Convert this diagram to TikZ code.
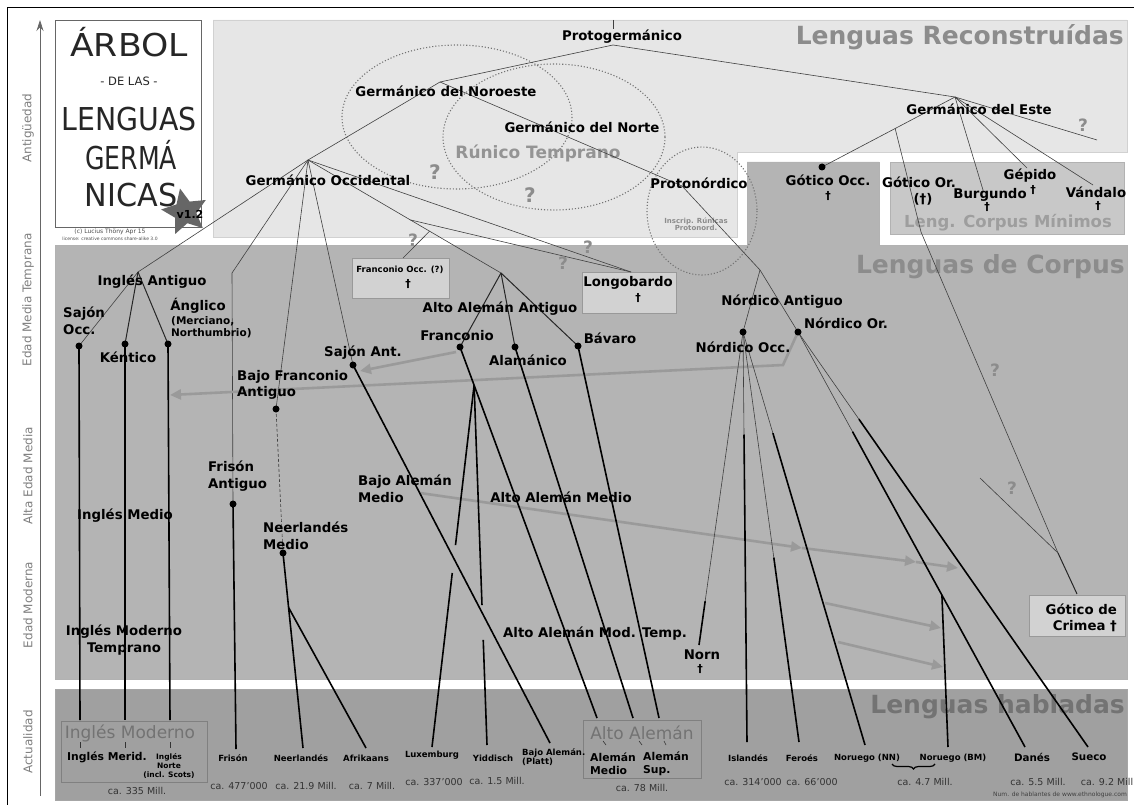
\documentclass[tikz,border=0pt]{standalone}
\usepackage{fontspec}
\setmainfont{DejaVu Sans}
\usetikzlibrary{arrows.meta,shapes.geometric,decorations.pathreplacing,calc}
\definecolor{recon}{HTML}{E6E6E6}
\definecolor{corpus}{HTML}{B4B4B4}
\definecolor{spoken}{HTML}{A0A0A0}
\definecolor{minbox}{HTML}{C8C8C8}
\definecolor{lbox}{HTML}{D2D2D2}
\definecolor{titlegray}{HTML}{8C8C8C}
\definecolor{arrowgray}{HTML}{9A9A9A}
\newcommand{\fs}[1]{\fontsize{#1}{#1}\selectfont}
\tikzset{
 lab/.style={font=\fontsize{13.3}{16.5}\selectfont\bfseries, inner sep=0pt, align=center},
 dag/.style={font=\fontsize{11}{12}\selectfont\bfseries, inner sep=0pt},
 sublab/.style={font=\fontsize{10.5}{12}\selectfont\bfseries, inner sep=0pt, align=left},
 slab/.style={font=\fontsize{8.5}{10}\selectfont\bfseries, inner sep=0pt, align=center},
 mlab/.style={font=\fontsize{10.8}{13}\selectfont\bfseries, inner sep=0pt, align=left},
 num/.style={font=\fontsize{9.5}{11}\selectfont, text=black!80, inner sep=0pt},
 big/.style={font=\fontsize{25}{28}\selectfont\bfseries, text=titlegray, inner sep=0pt, anchor=east},
 boxtitle/.style={font=\fontsize{17}{19}\selectfont, text=black!55, inner sep=0pt},
 axlab/.style={font=\fontsize{12}{14}\selectfont, text=black!50, inner sep=0pt, rotate=90},
 thinl/.style={line width=0.6pt, draw=black!75},
 medl/.style={line width=1pt, draw=black!85},
 thickl/.style={line width=1.6pt, draw=black},
 dot/.style={circle, fill=black, inner sep=0pt, minimum size=7pt},
 infl/.style={line width=2.6pt, draw=arrowgray, -{Triangle[length=11pt,width=10pt]}},
 qm/.style={font=\fontsize{20}{22}\selectfont\bfseries, text=black!45, inner sep=0pt},
 sqm/.style={font=\fontsize{17}{19}\selectfont\bfseries, text=black!45, inner sep=0pt},
 ring/.style={draw=black!55, dotted, line width=1.1pt},
 tick/.style={draw=black!80, line width=0.6pt},
}
\begin{document}
\begin{tikzpicture}[x=1pt,y=-1pt]
\useasboundingbox (0,0) rectangle (1134,805);
% ---------- frame and axis
\draw[black, line width=1pt] (7,805) -- (7,8) -- (1134,8);
\coordinate (axB) at (40,796);
\coordinate (axT) at (40,20);
\draw[black!60, line width=0.8pt, -{Stealth[length=11pt,width=7pt]}] (axB) -- (axT);
\node[axlab] (ax1) at (28,128) {Antigüedad};
\node[axlab] (ax2) at (28,300) {Edad Media Temprana};
\node[axlab] (ax3) at (28,476) {Alta Edad Media};
\node[axlab] (ax4) at (28,605) {Edad Moderna};
\node[axlab] (ax5) at (28,742) {Actualidad};
% ---------- regions
\filldraw[fill=recon, draw=black!18] (213,20) -- (1127,20) -- (1127,152) -- (737,152) -- (737,237) -- (213,237) -- cycle;
\filldraw[fill=corpus, draw=black!30] (55,245) -- (747,245) -- (747,162) -- (879,162) -- (879,245) -- (1127,245) -- (1127,679) -- (55,679) -- cycle;
\filldraw[fill=spoken, draw=black!35] (55,689) rectangle (1127,800);
\filldraw[fill=minbox, draw=black!30] (890,162) rectangle (1124,234);
\filldraw[fill=white, draw=black!60] (55,20) rectangle (201,227);
% ---------- title
\node[inner sep=0pt, anchor=base, font=\fs{31.5}, text=black!85] (t1) at (129,57) {\scalebox{1.1}[1]{ÁRBOL}};
\node[inner sep=0pt, anchor=base, font=\fs{11.5}, text=black!85] (t2) at (129,86) {- DE LAS -};
\node[inner sep=0pt, anchor=base, font=\fs{31.5}, text=black!85] (t3) at (129,131) {\scalebox{0.9}[1]{LENGUAS}};
\node[inner sep=0pt, anchor=base, font=\fs{31.5}, text=black!85] (t4) at (131,170) {\scalebox{0.8}[1]{GERMÁ}};
\node[inner sep=0pt, anchor=base, font=\fs{31.5}, text=black!85] (t5) at (131,206) {\scalebox{0.96}[1]{NICAS}};
\node[star, star points=5, star point ratio=2.1, fill=black!60, minimum size=48pt, inner sep=0pt, rotate=12] (star) at (185,212) {};
\node[inner sep=0pt, font=\fs{11}\bfseries] (ver) at (190,214) {v1.2};
\node[inner sep=0pt, font=\fs{6}, text=black!70] (copy) at (110,232) {(c) Lucius Thöny Apr 15};
\node[inner sep=0pt, font=\fs{4.5}, text=black!70] (lic) at (110,239) {license: creative commons share-alike 3.0};
% ---------- region titles
\node[big] (rt1) at (1124,37) {Lenguas Reconstruídas};
\node[big] (rt2) at (1125,267) {Lenguas de Corpus};
\node[big, text=black!55] (rt3) at (1125,707) {Lenguas habladas};
\node[inner sep=0pt, font=\fs{16.5}\bfseries, text=black!38] (rt4) at (1008,223) {Leng. Corpus Mínimos};
% ---------- dotted rings
\draw[ring] (457,117) ellipse [x radius=115, y radius=72];
\draw[ring] (554,137) ellipse [x radius=111, y radius=73];
\draw[ring] (702,211) ellipse [x radius=55, y radius=64];
\node[inner sep=0pt, font=\fs{17}\bfseries, text=black!42] (runico) at (538,153) {Rúnico Temprano};
\node[inner sep=0pt, font=\fs{7}\bfseries, text=black!45, align=center] (inscr) at (696,224) {Inscrip. Rúnicas\\Protonord.};
% ---------- small boxes
\filldraw[fill=lbox, draw=black!40] (352,258) rectangle (449,298);
\filldraw[fill=lbox, draw=black!40] (582,272) rectangle (676,313);
\filldraw[fill=lbox, draw=black!40] (1029,595) rectangle (1125,636);
\draw[black!50, line width=0.8pt] (61,721) rectangle (207,782);
\draw[black!50, line width=0.8pt] (583,720) rectangle (701,778);
% ---------- coordinates
\coordinate (PGtop) at (613,20);
\coordinate (PGtop2) at (613,29);
\coordinate (PGp) at (613,45);
\coordinate (N1) at (440,82);
\coordinate (WG) at (308,160);
\coordinate (PN) at (682,186);
\coordinate (NA) at (760,270);
\coordinate (NOcc) at (743,332);
\coordinate (NOr) at (798,332);
\coordinate (GE) at (955,97);
\coordinate (GoOcc) at (822,167);
\coordinate (GEb) at ($(GE)!0.45!(GoOcc)$);
\coordinate (GoOrP) at (921,232);
\coordinate (CJ) at (1058,553);
\coordinate (CQ) at (980,478);
\coordinate (Crim) at (1077,594);
\coordinate (Burg) at (983,190);
\coordinate (Gep) at (1027,168);
\coordinate (Vand) at (1093,185);
\coordinate (GEq) at (1097,140);
\coordinate (IA) at (138,272);
\coordinate (SOcc) at (79,346);
\coordinate (Kent) at (125,344);
\coordinate (Angl) at (168,344);
\coordinate (Fr1) at (232,273);
\coordinate (FrA) at (233,504);
\coordinate (BFA) at (276,409);
\coordinate (NM) at (283,553);
\coordinate (SAnt) at (353,365);
\coordinate (AAA) at (501,273);
\coordinate (FOb) at ($(WG)!0.63!(AAA)$);
\coordinate (LGb) at ($(WG)!0.53!(AAA)$);
\coordinate (FOtop) at (403,258);
\coordinate (LG) at (631,272);
\coordinate (Fran) at (460,347);
\coordinate (Alam) at (515,347);
\coordinate (Bav) at (578,346);
\coordinate (EM1) at (80,720);
\coordinate (EM2) at (125,720);
\coordinate (EM3) at (170,720);
\coordinate (FrE) at (236,749);
\coordinate (NeE) at (303,748);
\coordinate (AfE) at (366,748);
\coordinate (LuxE) at (432,747);
\coordinate (YiE) at (487,745);
\coordinate (PlE) at (550,743);
\coordinate (AMe) at (597,718);
\coordinate (ASe1) at (633,718);
\coordinate (ASe2) at (659,718);
\coordinate (NornE) at (699,645);
\coordinate (IsE) at (747,742);
\coordinate (FeE) at (799,742);
\coordinate (NNE) at (865,745);
\coordinate (BME) at (948,747);
\coordinate (DaE) at (1025,747);
\coordinate (SuE) at (1088,747);
\coordinate (FB) at ($(Fran)!0.103!(AMe)$);
\coordinate (NMb) at ($(NM)!0.28!(NeE)$);
\coordinate (DaB) at ($(NOr)!0.634!(DaE)$);
% influence arrow points
\coordinate (I1a) at (783,365);
\coordinate (I1b) at (170,395);
\coordinate (I2a) at (456,352);
\coordinate (I2b) at (360,371);
\coordinate (I3a) at (420,493);
\coordinate (I3b) at (802,548);
\coordinate (I3c) at (916,562);
\coordinate (I3d) at (958,568);
\coordinate (I4a) at (825,603);
\coordinate (I4b) at (941,628);
\coordinate (I5a) at (838,642);
\coordinate (I5b) at (943,667);
% ---------- reconstructed lines
\draw[thinl] (PGtop) -- (PGtop2);
\draw[thinl] (PGp) -- (N1) -- (WG);
\draw[thinl] (N1) -- (PN) -- (NA);
\draw[thinl] (NA) -- (NOcc);
\draw[thinl] (NA) -- (NOr);
\draw[thinl] (PGp) -- (GE);
\draw[thinl] (GE) -- (GoOcc);
\draw[thinl] (GEb) -- (GoOrP) -- (CJ);
\draw[thinl] (GE) -- (Burg);
\draw[thinl] (GE) -- (Gep);
\draw[thinl] (GE) -- (Vand);
\draw[thinl] (GE) -- (GEq);
\draw[thinl] (CQ) -- (CJ);
\draw[medl] (CJ) -- (Crim);
% west germanic
\draw[thinl] (WG) -- (IA) -- (SOcc);
\draw[medl] (IA) -- (Kent);
\draw[medl] (IA) -- (Angl);
\draw[thinl] (WG) -- (Fr1) -- (FrA);
\draw[thinl] (WG) -- (BFA);
\draw[thinl] (WG) -- (SAnt);
\draw[thinl] (WG) -- (AAA);
\draw[thinl] (FOb) -- (FOtop);
\draw[thinl] (WG) -- (LG);
\draw[thinl] (LGb) -- (LG);
\draw[medl] (AAA) -- (Fran);
\draw[medl] (AAA) -- (Alam);
\draw[medl] (AAA) -- (Bav);
\draw[thinl, densely dashed] (BFA) -- (NM);
% ---------- influence arrows
\draw[infl] (NOr) -- (I1a) -- (I1b);
\draw[infl] (I2a) -- (I2b);
\draw[infl] (I3a) -- (I3b);
\draw[infl] (I3b) -- (I3c);
\draw[infl] (I3c) -- (I3d);
\draw[infl] (I4a) -- (I4b);
\draw[infl] (I5a) -- (I5b);
% ---------- attested lines
\draw[thickl] (SOcc) -- (EM1);
\draw[thickl] (Kent) -- (EM2);
\draw[thickl] (Angl) -- (EM3);
\draw[thickl] (FrA) -- (FrE);
\draw[thickl] (NM) -- (NeE);
\draw[thickl] (NMb) -- (AfE);
\draw[thickl] (SAnt) -- (PlE);
\draw[thickl] (Fran) -- (AMe);
\draw[thickl] (FB) -- ($(FB)!0.442!(LuxE)$);
\draw[thickl] ($(FB)!0.519!(LuxE)$) -- (LuxE);
\draw[thickl] (FB) -- ($(FB)!0.611!(YiE)$);
\draw[thickl] ($(FB)!0.708!(YiE)$) -- (YiE);
\draw[thickl] (Alam) -- (ASe1);
\draw[thickl] (Bav) -- (ASe2);
\draw[thinl] (NOcc) -- ($(NOcc)!0.86!(NornE)$);
\draw[thickl] ($(NOcc)!0.86!(NornE)$) -- (NornE);
\draw[thinl] (NOcc) -- ($(NOcc)!0.25!(IsE)$);
\draw[thickl] ($(NOcc)!0.25!(IsE)$) -- (IsE);
\draw[thinl] (NOcc) -- ($(NOcc)!0.55!(FeE)$);
\draw[thickl] ($(NOcc)!0.55!(FeE)$) -- (FeE);
\draw[thinl] (NOcc) -- ($(NOcc)!0.245!(NNE)$);
\draw[thickl] ($(NOcc)!0.245!(NNE)$) -- (NNE);
\draw[thinl] (NOr) -- ($(NOr)!0.24!(DaE)$);
\draw[thickl] ($(NOr)!0.24!(DaE)$) -- (DaE);
\draw[thinl] (NOr) -- ($(NOr)!0.21!(SuE)$);
\draw[thickl] ($(NOr)!0.21!(SuE)$) -- (SuE);
\draw[thickl] (DaB) -- (BME);
% ---------- dots
\foreach \p in {GoOcc,SOcc,Kent,Angl,FrA,BFA,NM,SAnt,Fran,Alam,Bav,NOcc,NOr}
  \node[dot] at (\p) {};
% ---------- labels (reconstructed)
\node[lab] (lPG) at (622,37) {Protogermánico};
\node[lab] (lN1) at (446,91) {Germánico del Noroeste};
\node[lab] (lNorte) at (582,127) {Germánico del Norte};
\node[lab] (lWG) at (328,180) {Germánico Occidental};
\node[lab] (lGE) at (979,109) {Germánico del Este};
\node[lab] (lPN) at (699,183) {Protonórdico};
\node[lab] (lGoOcc) at (828,180) {Gótico Occ.};
\node[dag] (dGoOcc) at (828,196) {†};
\node[lab] (lGoOr) at (919,182) {Gótico Or.};
\node[lab] (dGoOr) at (923,199) {(†)};
\node[lab] (lGep) at (1030,176) {Gépido};
\node[dag] (dGep) at (1033,190) {†};
\node[lab] (lBurg) at (990,195) {Burgundo};
\node[dag] (dBurg) at (987,207) {†};
\node[lab] (lVand) at (1096,192) {Vándalo};
\node[dag] (dVand) at (1098,206) {†};
% ---------- labels (corpus)
\node[lab] (lIA) at (152,282) {Inglés Antiguo};
\node[lab, align=left, anchor=west] (lSOcc) at (63,321) {Sajón\\Occ.};
\node[lab] (lKent) at (128,357) {Kéntico};
\node[lab] (lAngl) at (198,306) {Ánglico};
\node[sublab, anchor=north west] (lAngl2) at (171,316) {(Merciano,\\Northumbrio)};
\node[lab] (lSAnt) at (363,353) {Sajón Ant.};
\node[lab, align=left, anchor=west] (lBFA) at (237,385) {Bajo Franconio\\Antiguo};
\node[lab, align=left, anchor=west] (lFrA) at (208,476) {Frisón\\Antiguo};
\node[lab] (lIM) at (125,516) {Inglés Medio};
\node[lab, align=left, anchor=west] (lNM) at (263,536) {Neerlandés\\Medio};
\node[lab] (lIMT) at (124,640) {Inglés Moderno\\Temprano};
\node[lab, align=left, anchor=west] (lBAM) at (358,489) {Bajo Alemán\\Medio};
\node[lab] (lAAM) at (561,497) {Alto Alemán Medio};
\node[lab] (lAAMT) at (595,634) {Alto Alemán Mod. Temp.};
\node[lab] (lAAA) at (500,309) {Alto Alemán Antiguo};
\node[lab] (lFran) at (457,336) {Franconio};
\node[lab] (lAlam) at (528,360) {Alamánico};
\node[lab] (lBav) at (610,338) {Bávaro};
\node[lab] (lNA) at (782,302) {Nórdico Antiguo};
\node[lab] (lNOr) at (846,323) {Nórdico Or.};
\node[lab] (lNOcc) at (743,347) {Nórdico Occ.};
\node[lab] (lNorn) at (702,655) {Norn};
\node[dag] (dNorn) at (700,669) {†};
\node[slab] (lFO) at (400,270) {Franconio Occ. (?)};
\node[dag] (dFO) at (408,284) {†};
\node[lab] (lLG) at (628,283) {Longobardo};
\node[dag] (dLG) at (638,298) {†};
\node[lab, align=right, anchor=east] (lCrim) at (1117,618) {Gótico de\\Crimea †};
% question marks
\node[qm] (q1) at (435,172) {?};
\node[qm] (q2) at (530,195) {?};
\node[sqm] (q3) at (413,240) {?};
\node[sqm] (q4) at (588,247) {?};
\node[sqm] (q5) at (563,263) {?};
\node[sqm] (q6) at (1083,125) {?};
\node[sqm] (q7) at (995,370) {?};
\node[sqm] (q8) at (1012,488) {?};
% ---------- spoken languages
\node[boxtitle] (bIM) at (130,733) {Inglés Moderno};
\draw[tick] (80,742) -- (80,748);
\draw[tick] (125,742) -- (125,748);
\draw[tick] (170,742) -- (170,748);
\node[mlab, align=center] (lIMer) at (107,757) {Inglés Merid.};
\node[inner sep=0pt, font=\fontsize{7.5}{9}\selectfont\bfseries, align=center] (lINorte) at (169,766) {Inglés\\Norte\\(incl. Scots)};
\node[num] (nEN) at (137,791) {ca. 335 Mill.};
\node[slab] (lFris) at (233,758) {Frisón};
\node[num] (nFris) at (239,786) {ca. 477'000};
\node[slab] (lNe) at (301,758) {Neerlandés};
\node[num] (nNe) at (306,786) {ca. 21.9 Mill.};
\node[slab] (lAf) at (366,758) {Afrikaans};
\node[num] (nAf) at (372,786) {ca. 7 Mill.};
\node[slab] (lLux) at (432,755) {Luxemburg};
\node[num] (nLux) at (434,782) {ca. 337'000};
\node[slab] (lYi) at (493,758) {Yiddisch};
\node[num] (nYi) at (497,781) {ca. 1.5 Mill.};
\node[slab, align=left, anchor=west, font=\fontsize{8.5}{9}\selectfont\bfseries] (lPl) at (522,757) {Bajo Alemán.\\(Platt)};
\node[boxtitle] (bAA) at (642,733) {Alto Alemán};
\draw[tick] (603,741) -- (606,745);
\draw[tick] (639,741) -- (642,745);
\draw[tick] (664,741) -- (666,745);
\node[mlab, anchor=west] (lAM) at (590,764) {Alemán\\Medio};
\node[mlab, anchor=west] (lAS) at (643,764) {Alemán\\Sup.};
\node[num] (nAA) at (642,788) {ca. 78 Mill.};
\node[slab] (lIs) at (748,758) {Islandés};
\node[num] (nIs) at (753,782) {ca. 314'000};
\node[slab] (lFe) at (802,758) {Feroés};
\node[num] (nFe) at (812,782) {ca. 66'000};
\node[slab] (lNN) at (867,758) {Noruego (NN)};
\node[slab] (lBM) at (953,758) {Noruego (BM)};
\draw[decorate, decoration={brace, amplitude=5pt}, line width=1.2pt] (935,764) -- (892,764);
\node[num] (nNo) at (925,782) {ca. 4.7 Mill.};
\node[inner sep=0pt, font=\fs{10.3}\bfseries] (lDa) at (1032,757) {Danés};
\node[inner sep=0pt, font=\fs{10.3}\bfseries] (lSu) at (1089,757) {Sueco};
\node[num] (nDa) at (1038,782) {ca. 5.5 Mill.};
\node[num] (nSu) at (1107,782) {ca. 9.2 Mill};
\node[inner sep=0pt, font=\fs{6}, text=black!75] (src) at (1060,795) {Num. de hablantes de www.ethnologue.com};
\end{tikzpicture}
\end{document}
